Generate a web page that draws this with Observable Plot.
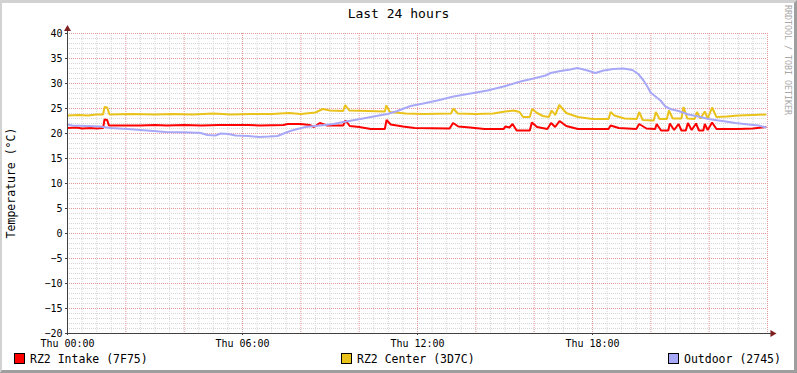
<!DOCTYPE html>
<html>
<head>
<meta charset="utf-8">
<script src="https://cdn.jsdelivr.net/npm/d3@7"></script>
<script src="https://cdn.jsdelivr.net/npm/@observablehq/plot@0.6"></script>
<style>
html, body { margin: 0; padding: 0; background: #fff; }
#wrap { position: relative; width: 797px; height: 373px; overflow: hidden; background: #fff; font-family: "DejaVu Sans Mono", monospace; color: #000; }
#wrap svg { position: absolute; left: 0; top: 0; }
.frame { position: absolute; left: 0; top: 0; width: 797px; height: 373px; box-sizing: border-box;
  border-top: 3px solid #d2d2d2; border-left: 2px solid #d2d2d2; border-right: 3px solid #9e9e9e; border-bottom: 3px solid #9e9e9e; pointer-events: none; }
.title { position: absolute; left: 0; top: 5px; width: 797px; text-align: center; font-size: 13px; line-height: 18px; }
.ylabel { position: absolute; left: 11px; top: 183px; transform: translate(-50%, -50%) rotate(-90deg); font-size: 11.5px; white-space: nowrap; }
.mark { position: absolute; left: 783px; top: 5px; writing-mode: vertical-rl; font-size: 8.3px; color: #a8a8a8; white-space: nowrap; }
.leg { position: absolute; top: 352px; font-size: 11.5px; line-height: 14px; white-space: nowrap; }
.leg i { display: inline-block; width: 9px; height: 9px; border: 1px solid #000; vertical-align: -1px; margin-right: 5px; }
</style>
</head>
<body>
<div id="wrap">
  <div class="title">Last 24 hours</div>
  <div class="mark">RRDTOOL / TOBI OETIKER</div>
  <div class="ylabel">Temperature (°C)</div>
  <div id="legend"></div>
  <div class="frame"></div>
</div>
<script>
// ---- data (hours after Thu 00:00, temperature in °C) ----
const seriesNames = ["RZ2 Intake (7F75)", "RZ2 Center (3D7C)", "Outdoor (2745)"];
const seriesColors = ["#ff0000", "#eac21c", "#a8a8f8"];

const intakeHours = [0,0.3,0.5,0.8,1.0,1.22,1.27,1.36,1.42,2.5,3.0,3.4,4.0,4.6,5.2,6.2,6.6,7.4,7.55,8.0,8.3,8.45,8.65,8.9,9.45,9.53,9.68,10.0,10.4,10.88,10.94,11.08,11.5,11.9,13.1,13.22,13.4,13.8,14.3,14.95,15.02,15.15,15.26,15.4,15.85,15.92,16.1,16.45,16.58,16.72,16.87,17.1,17.5,18.55,18.62,18.9,19.5,19.6,19.85,20.15,20.2,20.35,20.6,20.65,20.8,20.95,21.05,21.2,21.27,21.4,21.55,21.65,21.8,21.85,21.95,22.1,22.25,23.0,23.5,23.96];
const intakeTemps = [21.1,21.2,21.0,21.1,21.0,21.1,22.8,22.7,21.6,21.6,21.7,21.6,21.7,21.6,21.7,21.7,21.6,21.7,21.9,21.9,21.7,21.3,22.1,21.6,21.6,22.6,21.5,21.3,20.9,20.9,22.7,21.8,21.4,21.1,21.0,22.1,21.4,21.2,20.9,20.9,21.4,21.2,21.9,20.6,20.6,22.2,21.3,20.9,22.1,21.3,22.5,21.5,20.9,20.9,21.6,21.1,20.9,21.9,21.0,20.9,21.9,20.6,20.6,22.0,20.7,21.9,20.6,20.6,22.1,20.7,22.0,20.6,20.6,21.9,20.7,22.2,20.9,20.9,21.0,21.3];

const centerHours = [0,0.4,0.7,1.0,1.22,1.27,1.36,1.44,2.2,3.0,3.6,4.3,5.0,5.6,6.3,7.0,7.6,8.0,8.5,8.75,9.0,9.45,9.52,9.66,10.3,10.88,10.93,11.05,11.6,12.2,13.15,13.23,13.38,14.0,14.6,15.0,15.3,15.5,15.62,15.85,15.93,16.1,16.3,16.5,16.6,16.72,16.86,17.1,17.5,18.0,18.55,18.62,18.75,19.1,19.52,19.6,19.72,20.1,20.17,20.3,20.55,20.62,20.75,21.05,21.12,21.25,21.5,21.58,21.7,21.85,21.95,22.1,22.25,22.6,23.0,23.5,23.96];
const centerTemps = [23.6,23.7,23.6,23.8,23.8,25.3,25.2,23.8,23.9,23.8,23.9,23.8,24.0,23.8,23.9,23.9,24.1,23.9,24.2,24.9,24.6,24.5,25.7,24.6,24.5,24.4,25.6,24.3,24.0,23.9,24.0,25.0,24.0,23.9,24.0,24.4,24.6,24.3,23.3,23.3,24.9,24.1,23.5,23.3,24.6,23.7,25.7,24.1,23.3,22.9,22.9,24.3,23.6,23.0,22.9,24.3,22.7,22.6,24.3,22.9,22.9,24.6,23.0,23.0,25.3,23.0,22.9,24.3,23.0,24.4,23.0,25.2,23.3,23.4,23.6,23.7,23.8];

const outdoorHours = [0,0.17,1.13,1.47,2.06,2.5,2.95,3.36,4.22,4.56,4.8,5.07,5.25,5.52,5.76,6.2,6.55,6.89,7.2,7.37,7.64,7.88,8.16,8.67,9.12,9.46,10.04,10.49,10.97,11.31,11.76,12.2,12.68,13.23,13.82,14.4,14.95,15.53,15.98,16.39,16.56,16.9,17.24,17.48,17.83,18.1,18.38,18.72,19.06,19.37,19.57,19.75,19.89,19.99,20.16,20.33,20.5,20.67,20.95,21.29,21.63,21.97,22.45,22.9,23.35,23.69,23.96];
const outdoorTemps = [21.8,21.6,21.4,21.1,20.9,20.7,20.5,20.3,20.2,20.1,19.7,19.6,20.0,19.9,19.6,19.5,19.3,19.4,19.5,19.9,20.5,20.9,21.3,21.6,21.9,22.3,22.9,23.4,23.9,24.5,25.5,26.0,26.6,27.4,28.0,28.6,29.4,30.4,31.0,31.6,32.1,32.5,32.8,33.1,32.6,32.1,32.6,32.9,33.0,32.7,31.9,30.6,29.3,28.2,27.4,26.6,25.4,24.9,24.5,23.8,23.4,22.9,22.5,22.1,21.8,21.6,21.2];

const yTicks = [-20,-15,-10,-5,0,5,10,15,20,25,30,35,40];
const xLabelHours = [0,6,12,18];

// ---- build ----
const t0 = Date.UTC(2024, 0, 4); // a Thursday
const toDate = h => new Date(t0 + h * 3600e3);
const allSeries = [
  [intakeHours, intakeTemps],
  [centerHours, centerTemps],
  [outdoorHours, outdoorTemps]
];
const rows = allSeries.flatMap(([hs, vs], k) => hs.map((h, i) => ({series: seriesNames[k], time: toDate(h), temp: vs[i]})));

const yMinor = d3.range(-20, 41, 1).filter(v => v % 5 !== 0);
const yMajor = d3.range(-15, 41, 5);
const xMinor = d3.range(0.5, 24.01, 0.5).filter(h => h % 2 !== 0).map(toDate);
const xMajor = d3.range(2, 24.01, 2).map(toDate);
const fmt = d3.utcFormat("%a %H:%M");

const plot = Plot.plot({
  width: 797,
  height: 373,
  marginLeft: 67,
  marginRight: 30,
  marginTop: 33,
  marginBottom: 40,
  style: {fontFamily: "DejaVu Sans Mono, monospace", fontSize: "10px", background: "transparent", color: "#000"},
  x: {type: "utc", domain: [toDate(0), toDate(24)]},
  y: {domain: [-20, 40]},
  color: {domain: seriesNames, range: seriesColors},
  marks: [
    Plot.ruleY(yMinor, {stroke: "#d6d6d6", strokeDasharray: "1,1"}),
    Plot.ruleX(xMinor, {stroke: "#d6d6d6", strokeDasharray: "1,1"}),
    Plot.ruleY(yMajor, {stroke: "#e59a9a", strokeDasharray: "1,1"}),
    Plot.ruleX(xMajor, {stroke: "#e59a9a", strokeDasharray: "1,1"}),
    Plot.axisY({ticks: yTicks, tickSize: 2, tickPadding: 3, stroke: "#404040", label: null}),
    Plot.axisX({ticks: xLabelHours.map(toDate), tickFormat: fmt, tickSize: 2, tickPadding: 4, stroke: "#404040", label: null}),
    Plot.line(rows, {x: "time", y: "temp", z: "series", stroke: "series", strokeWidth: 2, strokeLinejoin: "miter", strokeLinecap: "butt"}),
    Plot.ruleX([toDate(0)], {y1: -20, y2: 40.9, stroke: "#404040"}),
    Plot.ruleY([-20], {x1: toDate(0), x2: toDate(24.15), stroke: "#404040"}),
    Plot.dot([toDate(0)], {x: d => d, y: 40.9, symbol: "triangle", r: 2.6, fill: "#7f2020", stroke: null}),
    Plot.dot([toDate(24.17)], {x: d => d, y: -20, symbol: "triangle", r: 2.6, rotate: 90, fill: "#7f2020", stroke: null})
  ]
});
document.getElementById("wrap").insertBefore(plot, document.getElementById("wrap").firstChild);

// legend
const legendLeft = [14, 341, 668];
const legend = document.getElementById("legend");
seriesNames.forEach((name, k) => {
  const d = document.createElement("div");
  d.className = "leg";
  d.style.left = legendLeft[k] + "px";
  d.innerHTML = `<i style="background:${seriesColors[k]}"></i>${name}`;
  legend.appendChild(d);
});
</script>
</body>
</html>
